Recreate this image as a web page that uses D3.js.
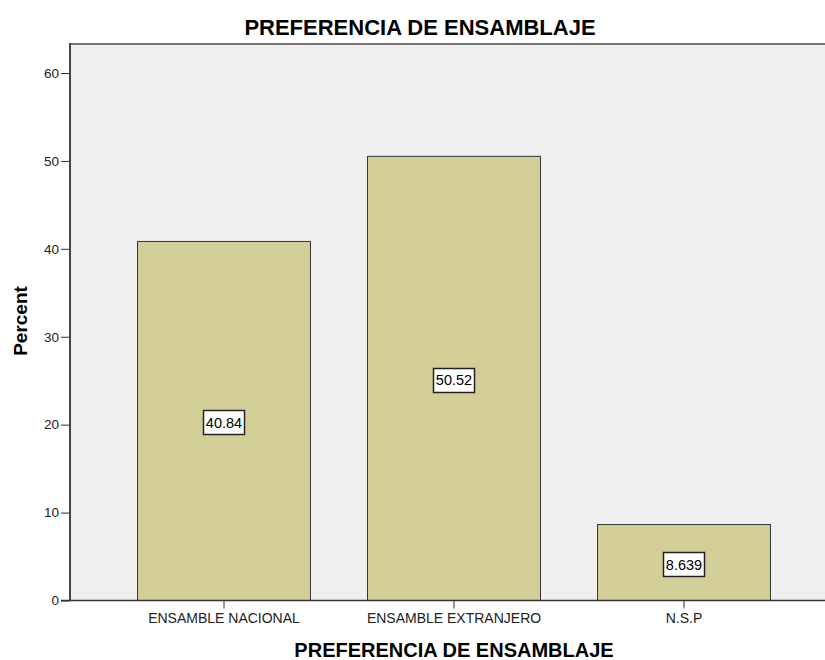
<!DOCTYPE html>
<html><head><meta charset="utf-8">
<script src="https://cdn.jsdelivr.net/npm/d3@7"></script>
<style>body{margin:0;background:#fff}svg{display:block}</style>
</head><body>
<script>
const categories = ["ENSAMBLE NACIONAL", "ENSAMBLE EXTRANJERO", "N.S.P"];
const percents = [40.84, 50.52, 8.639];
const valueLabels = ["40.84", "50.52", "8.639"];
const yTicks = [0, 10, 20, 30, 40, 50, 60];
const title = "PREFERENCIA DE ENSAMBLAJE";
const xTitle = "PREFERENCIA DE ENSAMBLAJE";
const yTitle = "Percent";

const W = 825, H = 660;
const svg = d3.select("body").append("svg").attr("width", W).attr("height", H);
const font = "Arial, 'Liberation Sans', sans-serif";

const plotL = 70, plotR = 826, plotT = 44, plotB = 600.5;
const x = d3.scaleBand().domain(categories).range([108.5, 798.5]).paddingInner(0.248).paddingOuter(0.124);
const y = d3.scaleLinear().domain([0, 63.3]).range([plotB, plotT]);

svg.append("rect").attr("x", plotL).attr("y", plotT).attr("width", plotR - plotL).attr("height", plotB - plotT).attr("fill", "#efefef");
svg.append("line").attr("x1", plotL).attr("x2", plotR).attr("y1", plotT).attr("y2", plotT).attr("stroke", "#777").attr("stroke-width", 2);

svg.selectAll("rect.bar").data(percents).enter().append("rect").attr("class", "bar")
  .attr("x", (d, i) => x(categories[i]) + 0.5)
  .attr("y", d => y(d))
  .attr("width", x.bandwidth())
  .attr("height", d => plotB - y(d))
  .attr("fill", "#d3ce97").attr("stroke", "#333").attr("stroke-width", 1);

// value labels
percents.forEach((d, i) => {
  const cx = x(categories[i]) + x.bandwidth() / 2 + 0.5;
  const cy = (y(d) + plotB) / 2 + 1.5;
  const g = svg.append("g");
  const t = g.append("text").attr("x", cx).attr("y", cy + 5.5).attr("text-anchor", "middle")
    .attr("font-family", font).attr("font-size", 14.5).attr("fill", "#000").text(valueLabels[i]);
  const bb = t.node().getBBox();
  g.insert("rect", "text").attr("x", Math.round(bb.x - 3) + 0.5).attr("y", Math.round(cy - 12) + 0.5)
    .attr("width", Math.round(bb.width + 5)).attr("height", 24).attr("fill", "#fff").attr("stroke", "#222").attr("stroke-width", 1.5);
});

// axes
const yAxis = svg.append("g").attr("transform", `translate(${plotL},0)`)
  .call(d3.axisLeft(y).tickValues(yTicks).tickSize(9).tickPadding(2));
yAxis.select(".domain").remove();
yAxis.selectAll("line").attr("stroke", "#333");
yAxis.selectAll("text").attr("font-family", font).attr("font-size", 13.5).attr("fill", "#222");
svg.append("line").attr("x1", plotL).attr("x2", plotL).attr("y1", plotT - 1).attr("y2", plotB).attr("stroke", "#444").attr("stroke-width", 2);

const xAxis = svg.append("g").attr("transform", `translate(0.5,${plotB})`)
  .call(d3.axisBottom(x).tickSize(8).tickPadding(5));
xAxis.select(".domain").remove();
xAxis.selectAll("line").attr("stroke", "#333");
xAxis.selectAll("text").attr("font-family", font).attr("font-size", 14).attr("fill", "#222");
svg.append("line").attr("x1", plotL - 9).attr("x2", plotR).attr("y1", plotB).attr("y2", plotB).attr("stroke", "#333").attr("stroke-width", 1.5);

svg.append("text").attr("x", 420).attr("y", 35).attr("text-anchor", "middle").attr("font-family", font)
  .attr("font-weight", "bold").attr("font-size", 22).text(title);
svg.append("text").attr("x", 454).attr("y", 657).attr("text-anchor", "middle").attr("font-family", font)
  .attr("font-weight", "bold").attr("font-size", 20).text(xTitle);
svg.append("text").attr("transform", "translate(27,321) rotate(-90)").attr("text-anchor", "middle").attr("font-family", font)
  .attr("font-weight", "bold").attr("font-size", 19).text(yTitle);
</script>
</body></html>
